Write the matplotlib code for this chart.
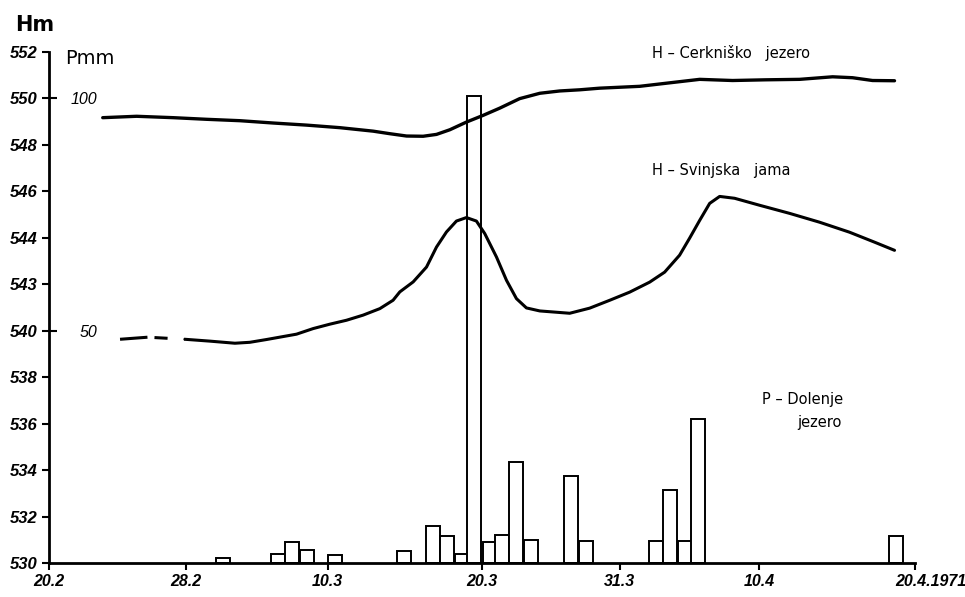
import matplotlib
matplotlib.use("Agg")
import matplotlib.pyplot as plt
import matplotlib.transforms as mtransforms

# x axis in days-ish units
TICK_POS = [0, 9.33, 19.0, 29.5, 38.9, 48.4, 59.0]
TICK_LABELS = ["20.2", "28.2", "10.3", "20.3", "31.3", "10.4", "20.4.1971"]
H_TICKS = [530, 532, 534, 536, 538, 540, 542, 544, 546, 548, 550, 552]
H_LABELS = ["530", "532", "534", "536", "538", "540", "543", "544", "546", "548", "550", "552"]
P_TICKS = [50, 100]

# H - Cerknisko jezero (m)
cerk_x = [3.66, 5.97, 8.47, 10.74, 13.01, 15.28, 17.55, 19.82, 22.09, 23.23, 24.37,
          25.50, 26.41, 27.32, 28.45, 29.59, 30.72, 32.08, 33.45, 34.81, 36.17,
          37.53, 40.26, 42.30, 44.35, 46.59, 48.84, 51.16, 53.41, 54.77, 56.13, 57.63]
cerk_h = [549.17, 549.23, 549.17, 549.10, 549.04, 548.94, 548.85, 548.74, 548.59, 548.48, 548.38,
          548.37, 548.45, 548.65, 548.98, 549.27, 549.58, 549.99, 550.22, 550.32, 550.37,
          550.44, 550.52, 550.67, 550.82, 550.77, 550.80, 550.82, 550.93, 550.89, 550.77, 550.76]

# H - Svinjska jama (m); first part of the record drawn dashed
svin_x = [4.84, 6.74, 9.26, 10.97, 12.67, 13.69, 14.83, 16.87, 18.00, 19.14, 20.28,
          21.41, 22.55, 23.45, 23.91, 24.82, 25.73, 26.41, 27.09, 27.77, 28.45,
          29.13, 29.70, 30.50, 31.18, 31.86, 32.54, 33.45, 34.47, 35.49, 36.85,
          38.22, 39.58, 40.94, 41.96, 42.98, 43.66, 44.35, 45.03, 45.71, 46.73,
          48.43, 50.48, 52.52, 54.56, 56.27, 57.63]
svin_h = [539.63, 539.72, 539.63, 539.55, 539.46, 539.50, 539.62, 539.85, 540.09, 540.28, 540.45,
          540.67, 540.95, 541.31, 541.67, 542.10, 542.74, 543.60, 544.25, 544.72, 544.87,
          544.72, 544.18, 543.17, 542.17, 541.38, 540.98, 540.85, 540.80, 540.75, 540.97,
          541.31, 541.66, 542.09, 542.52, 543.25, 543.98, 544.75, 545.48, 545.78, 545.70,
          545.40, 545.05, 544.67, 544.24, 543.81, 543.46]
N_DASHED = 3

# P - Dolenje jezero, daily precipitation (mm)
rain_x = [11.38, 15.12, 16.08, 17.10, 19.01, 23.71, 25.68, 26.63, 27.66, 28.47, 29.56,
          30.38, 31.34, 32.36, 35.08, 36.10, 40.87, 41.83, 42.85, 43.73, 57.22]
rain_mm = [1.0, 2.0, 4.5, 2.8, 1.7, 2.6, 8.0, 5.8, 2.0, 100.6, 4.5,
           6.0, 21.7, 5.0, 18.7, 4.7, 4.7, 15.7, 4.7, 31.0, 5.8]

tick_font = dict(family="Liberation Sans", style="italic", weight="bold", size=11.5)
label_font = dict(family="DejaVu Sans", size=10.5)

fig = plt.figure(figsize=(9.65, 5.97), dpi=100)
ax = fig.add_axes([0.0508, 0.057, 0.897, 0.856])
ax.set_xlim(0, 59)
ax.set_ylim(530, 552)

ax2 = ax.twinx()
ax2.set_ylim(0, 110)
ax2.bar(rain_x, rain_mm, width=0.97, align="edge", facecolor="white",
        edgecolor="black", linewidth=1.4, zorder=2)

ax.set_zorder(ax2.get_zorder() + 1)
ax.patch.set_visible(False)
line_kw = dict(color="black", solid_capstyle="round", solid_joinstyle="round")
ax.plot(cerk_x, cerk_h, lw=2.4, **line_kw)
ax.plot(svin_x[N_DASHED - 1:], svin_h[N_DASHED - 1:], lw=2.2, **line_kw)
ax.plot(svin_x[:N_DASHED], svin_h[:N_DASHED], color="black", lw=2.2,
        linestyle=(0, (9, 2.3, 4.3, 5.5)))

for a in (ax, ax2):
    for s in ("top", "right"):
        a.spines[s].set_visible(False)
ax2.spines["left"].set_visible(False)
ax2.spines["bottom"].set_visible(False)
ax.spines["left"].set_linewidth(2.0)
ax.spines["bottom"].set_linewidth(2.0)

ax.set_xticks(TICK_POS)
ax.set_xticklabels(TICK_LABELS, **tick_font)
ax.set_yticks(H_TICKS)
ax.set_yticklabels(H_LABELS, **tick_font)
ax.tick_params(axis="both", direction="out", length=5, width=1.5, pad=3)
ax.tick_params(axis="y", labelsize=12)

# the year label sits right of its tick in the original
last = ax.get_xticklabels()[-1]
last.set_transform(last.get_transform()
                   + mtransforms.ScaledTranslation(12 / 72, 0, fig.dpi_scale_trans))

ax2.yaxis.tick_left()
ax2.set_yticks(P_TICKS)
ax2.set_yticklabels([str(v) for v in P_TICKS], family="Liberation Sans",
                    style="italic", size=11.5)
ax2.tick_params(axis="y", direction="in", length=6, width=1.5, pad=-35)

fig.text(0.016, 0.958, "Hm", fontsize=15, fontweight="bold", family="DejaVu Sans",
         va="center")
fig.text(0.067, 0.902, "Pmm", fontsize=14, family="DejaVu Sans", va="center")
fig.text(0.676, 0.911, "H \u2013 Cerkniško   jezero", va="center", **label_font)
fig.text(0.676, 0.715, "H \u2013 Svinjska   jama", va="center", **label_font)
fig.text(0.790, 0.330, "P \u2013 Dolenje", va="center", **label_font)
fig.text(0.826, 0.292, "jezero", va="center", **label_font)

fig.savefig("out.png", dpi=100)
